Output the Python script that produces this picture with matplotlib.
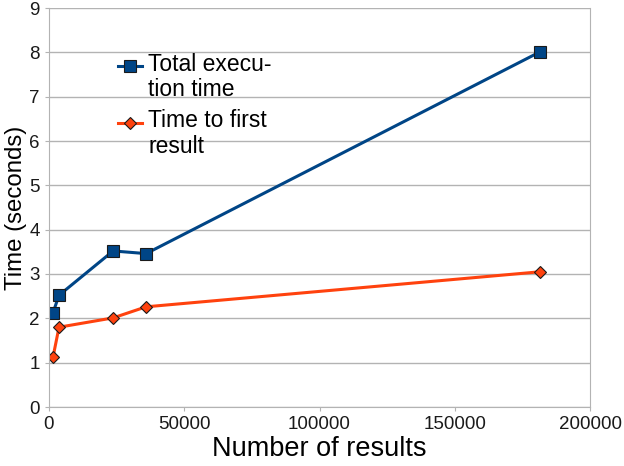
import numpy as np
from matplotlib import pyplot as plt
from matplotlib.offsetbox import DrawingArea

plt.rcParams['font.family'] = ['Liberation Sans', 'DejaVu Sans']

results = [1500, 3700, 23700, 35900, 181500]
total_time = [2.13, 2.52, 3.52, 3.46, 8.01]
first_time = [1.13, 1.80, 2.01, 2.26, 3.05]

fig = plt.figure(figsize=(6.24, 4.66), dpi=100)
ax = fig.add_axes([49/624, 1 - 407/466, 541/624, 399/466])

ax.plot(results, total_time, color='#004586', linewidth=2.2, marker='s',
        markersize=8, markerfacecolor='#004586', markeredgecolor='#1a1a1a',
        markeredgewidth=0.8, label='Total execu-\ntion time')
ax.plot(results, first_time, color='#ff420e', linewidth=2.2, marker='D',
        markersize=6.5, markerfacecolor='#ff420e', markeredgecolor='#1a1a1a',
        markeredgewidth=0.8, label='Time to first\nresult')

ax.set_xlim(0, 200000)
ax.set_ylim(0, 9)
ax.set_xticks(np.arange(0, 200001, 50000))
ax.set_yticks(np.arange(0, 10, 1))
ax.grid(True, axis='y', color='#b3b3b3', linewidth=1)
ax.set_axisbelow(True)
for s in ax.spines.values():
    s.set_color('#b3b3b3')
ax.spines['top'].set_visible(False)
ax.tick_params(colors='#b3b3b3', labelcolor='#1a1a1a', labelsize=13.5, length=3)

ax.set_xlabel('Number of results', fontsize=19.5, labelpad=2)
ax.set_ylabel('Time (seconds)', fontsize=17.3, labelpad=2)

leg = ax.legend(loc='upper left', bbox_to_anchor=(0.128, 0.888), frameon=False,
                fontsize=16.5, handlelength=1.05, labelspacing=0.36,
                handletextpad=0.25, borderpad=0, borderaxespad=0)
for t in leg.get_texts():
    t.set_linespacing(1.14)
# put the legend handle level with the first line of each label
for da in leg.findobj(DrawingArea):
    for a in da.get_children():
        a.set_ydata(np.asarray(a.get_ydata()) + 8.5)

fig.savefig('out.png', dpi=100)
